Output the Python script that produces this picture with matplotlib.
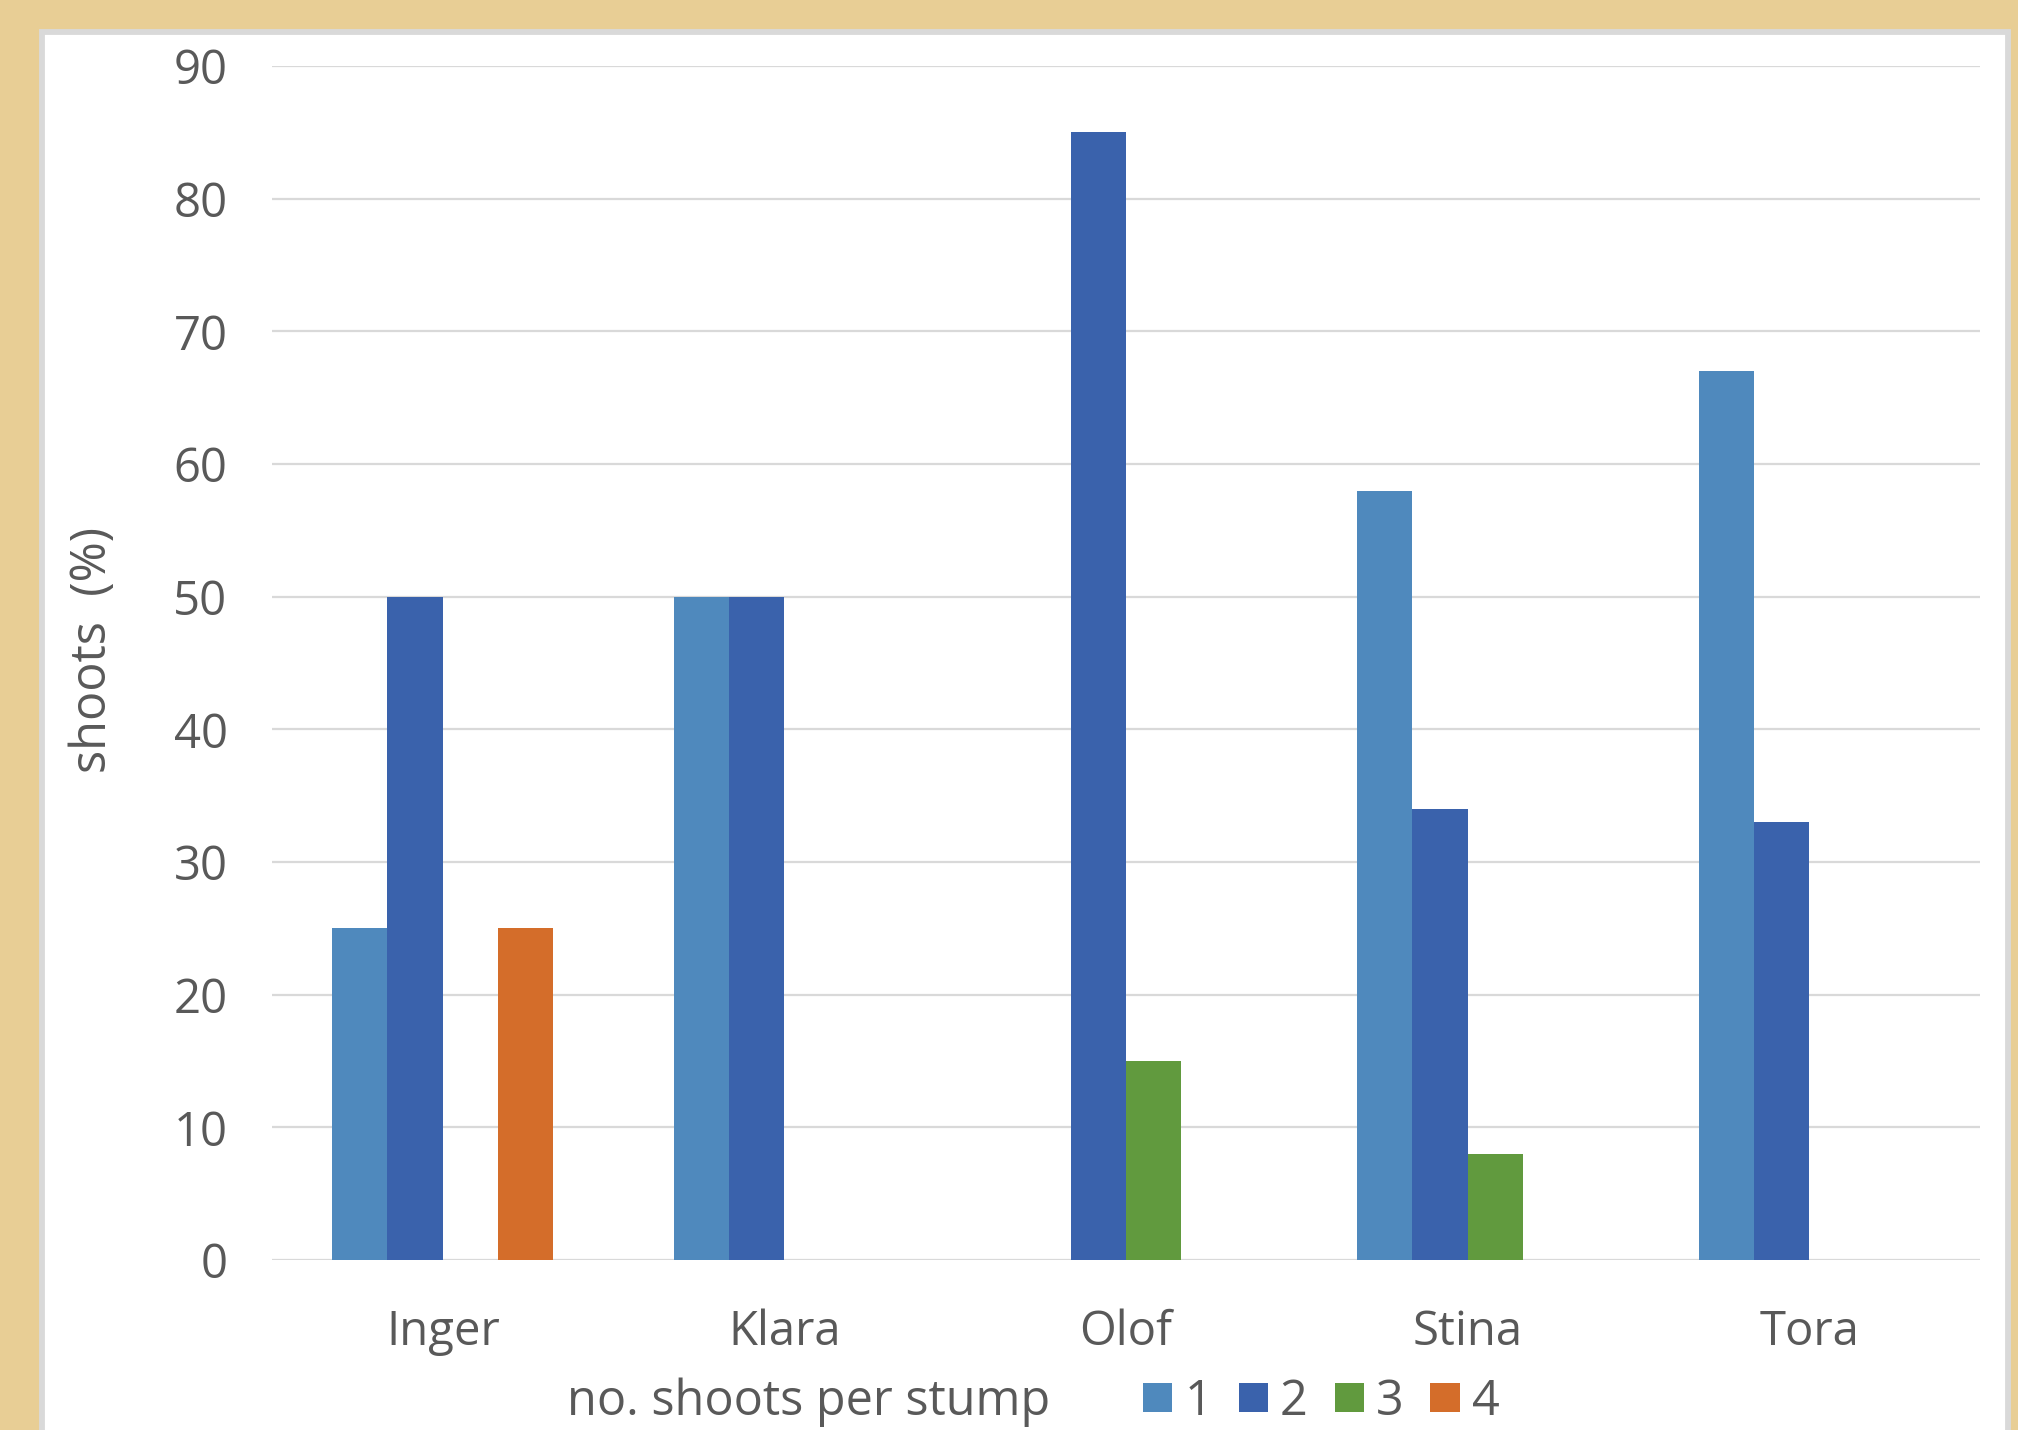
import numpy as np
import matplotlib
matplotlib.use("Agg")
import matplotlib.pyplot as plt
from matplotlib.patches import Rectangle, Patch

plt.rcParams["font.family"] = ["Open Sans", "DejaVu Sans"]

# shoots per stump, share of stumps (%) for each site
sites = ["Inger", "Klara", "Olof", "Stina", "Tora"]
shoot_classes = ["1", "2", "3", "4"]
share_1 = [25, 50, 0, 58, 67]
share_2 = [50, 50, 85, 34, 33]
share_3 = [0, 0, 15, 8, 0]
share_4 = [25, 0, 0, 0, 0]
yticks = [0, 10, 20, 30, 40, 50, 60, 70, 80, 90]

series = [share_1, share_2, share_3, share_4]
colors = ["#4f89bd", "#3a62ac", "#619a3e", "#d46d2a"]
text_col = "#595959"

W, H = 2018, 1430
fig = plt.figure(figsize=(W / 100, H / 100), dpi=100)
fig.patch.set_facecolor("#e8ce95")

# white card behind the chart
card = Rectangle((42 / W, -0.1), (2008 - 42) / W, 0.1 + (H - 32) / H,
                 transform=fig.transFigure, facecolor="white",
                 edgecolor="#d9d9d9", linewidth=4.2, zorder=-5)
fig.patches.append(card)

ax = fig.add_axes([272 / W, (H - 1260) / H, (1980 - 272) / W, (1260 - 66) / H])
ax.set_facecolor("none")

x = np.arange(len(sites))
w = 0.162
for i, vals in enumerate(series):
    ax.bar(x + (i - 1.5) * w, vals, width=w, color=colors[i], zorder=3)

ax.set_xlim(-0.5, len(sites) - 0.5)
ax.set_ylim(0, 90)
ax.set_yticks(yticks)
ax.set_xticks(x)
ax.set_xticklabels(sites)
ax.yaxis.grid(True, color="#d9d9d9", linewidth=1.6, zorder=0)
ax.set_axisbelow(True)
for s in ax.spines.values():
    s.set_visible(False)
ax.tick_params(axis="both", length=0, labelsize=34, labelcolor=text_col)
ax.tick_params(axis="y", pad=32)
ax.tick_params(axis="x", pad=35)

fig.text(93 / W, (H - 650) / H, "shoots  (%)", rotation=90, ha="center",
         va="center", fontsize=35, color=text_col)

# legend along the bottom edge
leg_y = (H - 1402) / H
fig.text(567 / W, leg_y, "no. shoots per stump", ha="left",
         va="center", fontsize=35, color=text_col)
handles = [Patch(facecolor=c, edgecolor="none") for c in colors]
fig.legend(handles, shoot_classes, loc="center left",
           bbox_to_anchor=(1143 / W, leg_y), ncol=4, frameon=False,
           fontsize=35, labelcolor=text_col, handlelength=0.6,
           handleheight=0.55, handletextpad=0.25, columnspacing=0.55,
           borderpad=0, borderaxespad=0)

fig.savefig("out.png", dpi=100, facecolor=fig.get_facecolor())
